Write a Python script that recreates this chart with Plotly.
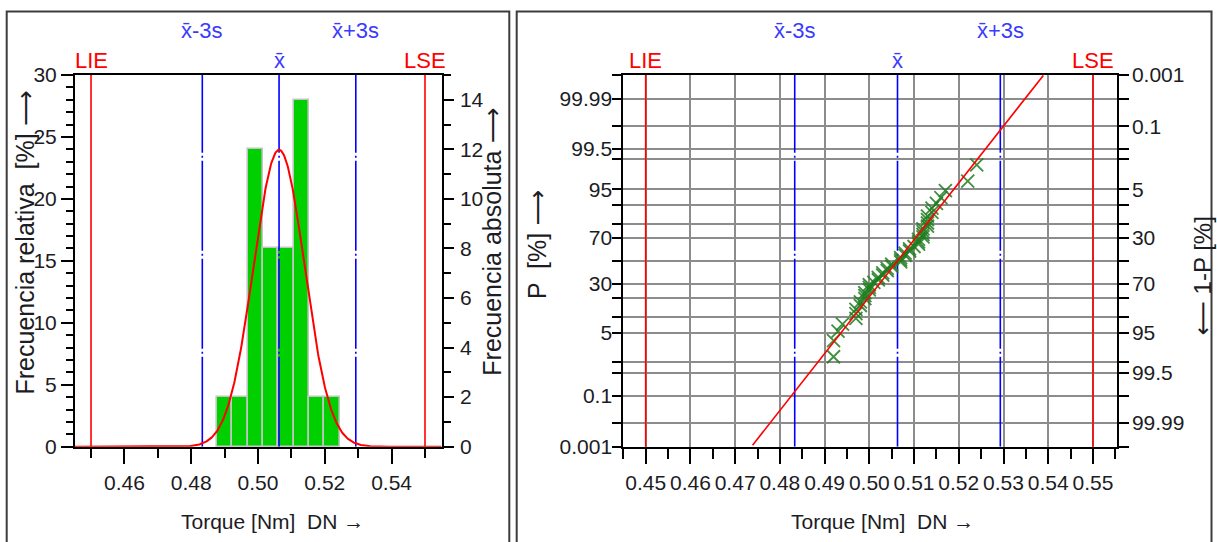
import math
from statistics import NormalDist
import plotly.graph_objects as go

W, H = 1217, 542

# ---------------- data ----------------
hist_bin_edges = [0.4877, 0.4923, 0.4969, 0.5015, 0.5061, 0.5107, 0.5153, 0.5199, 0.5245]
hist_counts = [2, 2, 12, 8, 8, 14, 2, 2]
n_total = 50

torque_values = [
    0.492, 0.492, 0.493, 0.494,
    0.497, 0.497, 0.497, 0.498, 0.498, 0.499, 0.499, 0.499, 0.500, 0.500, 0.500, 0.501,
    0.502, 0.502, 0.503, 0.503, 0.504, 0.504, 0.505, 0.505,
    0.507, 0.507, 0.507, 0.508, 0.508, 0.509, 0.509, 0.510,
    0.511, 0.511, 0.511, 0.512, 0.512, 0.512, 0.512, 0.513, 0.513, 0.513, 0.513, 0.514, 0.514, 0.515,
    0.516, 0.517,
    0.522, 0.524,
]

mean_val = 0.5063
std_val = 0.00766
lie_val, lse_val = 0.45, 0.55
fit_line_x = [0.4739, 0.5389]

prob_grid_levels = [0.001, 0.01, 0.1, 0.5, 1, 5, 10, 20, 30, 50, 70, 80, 90, 95, 99, 99.5, 99.9, 99.99, 99.999]
prob_left_labels = {0.001: "0.001", 0.1: "0.1", 5: "5", 30: "30", 70: "70", 95: "95", 99.5: "99.5", 99.99: "99.99"}
prob_right_labels = {99.999: "0.001", 99.9: "0.1", 95: "5", 70: "30", 30: "70", 5: "95", 0.5: "99.5", 0.01: "99.99"}

# ---------------- helpers ----------------
nd = NormalDist()
def z_of(p_pct):
    return nd.inv_cdf(p_pct / 100.0)

def pxx(v):
    return v / W

def pxy(v):
    return 1 - v / H

FONT = "Liberation Sans, Arial, DejaVu Sans"
TXT = "#1c1c24"
BLUE = "#0000ff"
BLUE_T = "#3a3aff"
RED = "#ff0000"
GRID = "#8c8c8c"

x1_dom = [pxx(75), pxx(441.7)]
x2_dom = [pxx(623.3), pxx(1116.7)]
y_dom = [pxy(446.7), pxy(75)]
zmax = z_of(99.999)

fig = go.Figure()

xbar = "x\u0304"
ref_lines = [
    (lie_val, RED, "solid", "LIE", 60, RED),
    (lse_val, RED, "solid", "LSE", 60, RED),
    (mean_val, BLUE, "90px,3px,2px,3px", xbar, 60, BLUE_T),
    (mean_val - 3 * std_val, BLUE, "90px,3px,2px,3px", xbar + "-3s", 30, BLUE_T),
    (mean_val + 3 * std_val, BLUE, "90px,3px,2px,3px", xbar + "+3s", 30, BLUE_T),
]

# ---------------- left panel: histogram ----------------
bin_centers = [(a + b) / 2 for a, b in zip(hist_bin_edges[:-1], hist_bin_edges[1:])]
bin_widths = [b - a for a, b in zip(hist_bin_edges[:-1], hist_bin_edges[1:])]
rel_pct = [c / n_total * 100 for c in hist_counts]
fig.add_trace(go.Bar(
    x=bin_centers, y=rel_pct, width=bin_widths,
    marker=dict(color="#00d000", line=dict(color="#c4c4c4", width=1.6)),
    xaxis="x", yaxis="y", showlegend=False, hoverinfo="skip",
))
for xv, col, dash, label, ypix, tcol in ref_lines:
    fig.add_trace(go.Scatter(x=[xv, xv], y=[0, 30], mode="lines",
                             line=dict(color=col, width=1.6, dash=dash),
                             xaxis="x", yaxis="y", showlegend=False, hoverinfo="skip"))

bw = sum(bin_widths) / len(bin_widths)
curve_x = [0.445 + i * (0.11 / 600) for i in range(601)]
curve_y = [100 * bw * math.exp(-0.5 * ((v - mean_val) / std_val) ** 2) / (std_val * math.sqrt(2 * math.pi)) for v in curve_x]
fig.add_trace(go.Scatter(
    x=curve_x, y=curve_y, mode="lines", line=dict(color=RED, width=2),
    xaxis="x", yaxis="y", showlegend=False, hoverinfo="skip",
))
fig.add_trace(go.Scatter(x=[0.5], y=[0], mode="markers", marker=dict(opacity=0),
                         xaxis="x", yaxis="y2", showlegend=False, hoverinfo="skip"))

# ---------------- right panel: probability plot ----------------
for xv, col, dash, label, ypix, tcol in ref_lines:
    fig.add_trace(go.Scatter(x=[xv, xv], y=[-zmax, zmax], mode="lines",
                             line=dict(color=col, width=1.6, dash=dash),
                             xaxis="x2", yaxis="y3", showlegend=False, hoverinfo="skip"))

n_pts = len(torque_values)
ranks_pct = [(i - 0.3) / (n_pts + 0.4) * 100 for i in range(1, n_pts + 1)]
fig.add_trace(go.Scatter(
    x=sorted(torque_values), y=[z_of(p) for p in ranks_pct], mode="markers",
    marker=dict(symbol="x-thin", size=13, line=dict(color="rgba(30,125,30,0.85)", width=1.8)),
    xaxis="x2", yaxis="y3", showlegend=False, hoverinfo="skip",
))
fig.add_trace(go.Scatter(
    x=fit_line_x, y=[(v - mean_val) / std_val for v in fit_line_x], mode="lines",
    line=dict(color=RED, width=1.6),
    xaxis="x2", yaxis="y3", showlegend=False, hoverinfo="skip",
))
fig.add_trace(go.Scatter(x=[0.5], y=[0], mode="markers", marker=dict(opacity=0),
                         xaxis="x2", yaxis="y4", showlegend=False, hoverinfo="skip"))

# ---------------- axes ----------------
tickfont = dict(family=FONT, size=21, color=TXT)
common_line = dict(showline=True, linecolor="black", linewidth=2, zeroline=False, automargin=False)

grid_z = [z_of(p) for p in prob_grid_levels]
left_text = [prob_left_labels.get(p, "") for p in prob_grid_levels]
right_text = [prob_right_labels.get(p, "") for p in prob_grid_levels]

fig.update_layout(
    width=W, height=H, margin=dict(l=0, r=0, t=0, b=0, autoexpand=False),
    paper_bgcolor="white", plot_bgcolor="white", bargap=0,
    xaxis=dict(domain=x1_dom, anchor="y", range=[0.4452, 0.555],
               tickmode="linear", tick0=0.46, dtick=0.02, tickformat=".2f", tickangle=0,
               ticks="outside", ticklen=15, tickwidth=2, tickcolor="black",
               minor=dict(ticks="outside", dtick=0.01, tick0=0.46, ticklen=9, tickwidth=2, tickcolor="black", showgrid=False),
               showgrid=False, mirror=True, layer="below traces", tickfont=tickfont,
               ticklabelstandoff=1, **common_line),
    yaxis=dict(domain=y_dom, anchor="x", range=[0, 30],
               tickmode="linear", tick0=0, dtick=5,
               ticks="outside", ticklen=12, tickwidth=2, tickcolor="black",
               minor=dict(ticks="outside", dtick=1, ticklen=7, tickwidth=1.5, tickcolor="black", showgrid=False),
               showgrid=False, layer="below traces", tickfont=tickfont, **common_line),
    yaxis2=dict(overlaying="y", side="right", anchor="x", range=[0, 15],
                tickmode="linear", tick0=0, dtick=2,
                ticks="outside", ticklen=10, tickwidth=2, tickcolor="black",
                minor=dict(ticks="outside", dtick=1, ticklen=7, tickwidth=1.5, tickcolor="black", showgrid=False),
                showgrid=False, tickfont=tickfont, ticklabelstandoff=2, **common_line),
    xaxis2=dict(domain=x2_dom, anchor="y3", range=[0.445, 0.5553],
                tickmode="linear", tick0=0.45, dtick=0.01, tickformat=".2f", tickangle=0,
                ticks="outside", ticklen=15, tickwidth=2, tickcolor="black",
                minor=dict(ticks="outside", dtick=0.005, tick0=0.45, ticklen=10, tickwidth=2, tickcolor="black", showgrid=False),
                showgrid=True, gridcolor=GRID, gridwidth=1.6, mirror=True,
                tickfont=tickfont, ticklabelstandoff=1, **common_line),
    yaxis3=dict(domain=y_dom, anchor="x2", range=[-zmax, zmax],
                tickmode="array", tickvals=grid_z, ticktext=left_text,
                ticks="outside", ticklen=9, tickwidth=2, tickcolor="black",
                showgrid=True, gridcolor=GRID, gridwidth=1.6,
                tickfont=tickfont, ticklabelstandoff=-4, **common_line),
    yaxis4=dict(overlaying="y3", side="right", anchor="x2", range=[-zmax, zmax],
                tickmode="array", tickvals=grid_z, ticktext=right_text,
                ticks="outside", ticklen=10, tickwidth=2, tickcolor="black",
                showgrid=False, tickfont=tickfont, ticklabelstandoff=-1, **common_line),
)

# ---------------- line labels ----------------
for xref in ("x", "x2"):
    for xv, col, dash, label, ypix, tcol in ref_lines:
        fig.add_annotation(xref=xref, yref="paper", x=xv, y=pxy(ypix), text=label,
                           showarrow=False, xanchor="center", yanchor="middle",
                           font=dict(family=FONT, size=22, color=tcol))

# ---------------- axis titles ----------------
def title(text, x, y, angle=0, size=21):
    fig.add_annotation(xref="paper", yref="paper", x=pxx(x), y=pxy(y), text=text,
                       showarrow=False, xanchor="center", yanchor="middle", textangle=angle,
                       font=dict(family=FONT, size=size, color=TXT))

title("Torque [Nm]  DN \u2192", 272, 521)
title("Torque [Nm]  DN \u2192", 882, 521)
title("Frecuencia relativa  [%] \u27f6", 24, 242.5, -90, 25)
title("Frecuencia absoluta \u27f6", 491.7, 242, -90, 25)
title("P  [%] \u27f6", 537, 245, -90, 25)
title("\u27f5 1-P [%]", 1202, 276.5, -90, 24)

# ---------------- panel borders ----------------
for x0, x1 in ((6.7, 509.3), (516.7, 1211.5)):
    fig.add_shape(type="rect", xref="paper", yref="paper",
                  x0=pxx(x0), x1=pxx(x1), y0=pxy(570), y1=pxy(11.5),
                  line=dict(color="#3c3c3c", width=2), layer="above")

fig.write_html("out.html", config={"displayModeBar": False},
               post_script="document.body.style.margin='0px';")
